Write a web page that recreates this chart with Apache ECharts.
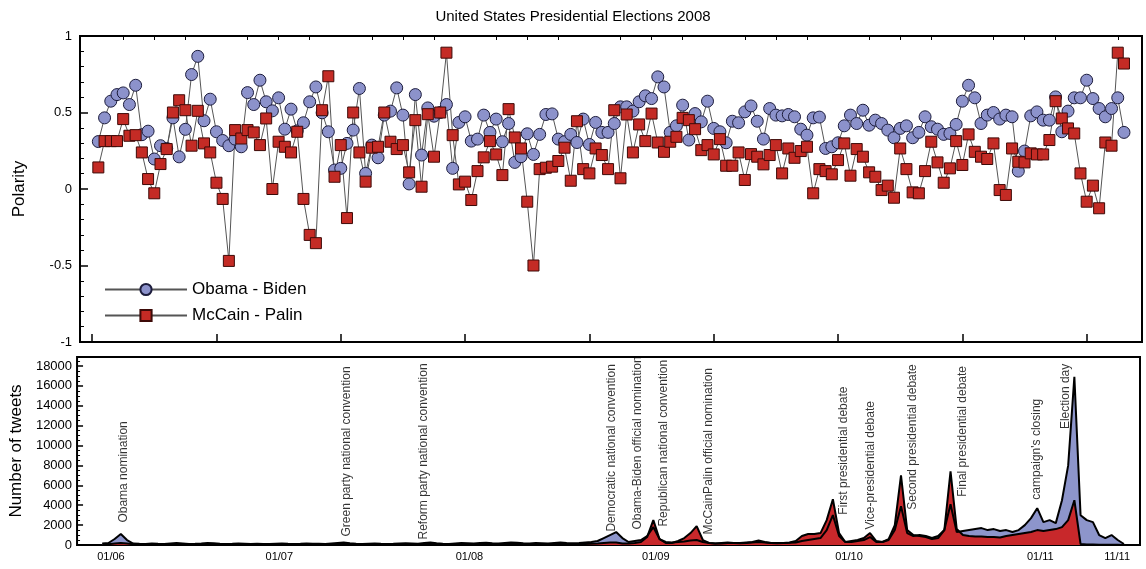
<!DOCTYPE html>
<html>
<head>
<meta charset="utf-8">
<title>United States Presidential Elections 2008</title>
<script src="https://cdn.jsdelivr.net/npm/echarts@6/dist/echarts.min.js"></script>
<style>
html, body { margin: 0; padding: 0; background: #fff; }
#main { width: 1146px; height: 569px; }
</style>
</head>
<body>
<div id="main"></div>
<script>
// daily polarity, day 1 .. 166
const obamaPolarity = [
  0.31, 0.465, 0.574, 0.617, 0.628, 0.552, 0.678, 0.355, 0.378, 0.196,
  0.283, 0.265, 0.465, 0.21, 0.39, 0.748, 0.867, 0.446, 0.587, 0.374,
  0.317, 0.283, 0.326, 0.276, 0.63, 0.552, 0.711, 0.57, 0.511, 0.596,
  0.391, 0.522, 0.38, 0.433, 0.57, 0.667, 0.498, 0.374, 0.124, 0.135,
  0.298, 0.385, 0.657, 0.102, 0.287, 0.204, 0.483, 0.509, 0.661, 0.483,
  0.033, 0.617, 0.222, 0.53, 0.476, 0.5, 0.552, 0.135, 0.435, 0.472,
  0.313, 0.326, 0.483, 0.37, 0.457, 0.309, 0.428, 0.174, 0.211, 0.361,
  0.226, 0.357, 0.487, 0.491, 0.326, 0.309, 0.357, 0.304, 0.457, 0.291,
  0.435, 0.37, 0.37, 0.428, 0.537, 0.537, 0.509, 0.57, 0.609, 0.591,
  0.733, 0.667, 0.37, 0.413, 0.548, 0.32, 0.493, 0.439, 0.574, 0.396,
  0.374, 0.302, 0.443, 0.433, 0.504, 0.543, 0.443, 0.326, 0.526, 0.483,
  0.478, 0.487, 0.472, 0.391, 0.352, 0.465, 0.47, 0.265, 0.276, 0.302,
  0.413, 0.483, 0.428, 0.515, 0.417, 0.45, 0.428, 0.385, 0.335, 0.396,
  0.413, 0.335, 0.37, 0.472, 0.407, 0.391, 0.357, 0.363, 0.422, 0.574,
  0.678, 0.596, 0.428, 0.483, 0.5, 0.457, 0.483, 0.472, 0.117, 0.248,
  0.478, 0.504, 0.45, 0.45, 0.602, 0.374, 0.509, 0.596, 0.596, 0.711,
  0.591, 0.526, 0.472, 0.526, 0.596, 0.37
]
const mccainPolarity = [
  0.141, 0.313, 0.313, 0.313, 0.457, 0.348, 0.352, 0.239, 0.065, -0.028,
  0.163, 0.261, 0.5, 0.58, 0.515, 0.283, 0.511, 0.298, 0.239, 0.041,
  -0.065, -0.47, 0.385, 0.33, 0.385, 0.37, 0.287, 0.461, 0.0, 0.309,
  0.276, 0.239, 0.374, -0.065, -0.3, -0.354, 0.515, 0.737, 0.08, 0.287,
  -0.19, 0.5, 0.239, 0.048, 0.27, 0.276, 0.5, 0.309, 0.261, 0.287,
  0.109, 0.45, 0.015, 0.489, 0.211, 0.5, 0.891, 0.352, 0.03, 0.048,
  -0.072, 0.117, 0.207, 0.313, 0.226, 0.091, 0.522, 0.337, 0.265, -0.083,
  -0.5, 0.13, 0.139, 0.146, 0.183, 0.27, 0.054, 0.443, 0.13, 0.102,
  0.265, 0.222, 0.13, 0.515, 0.07, 0.487, 0.239, 0.422, 0.313, 0.493,
  0.304, 0.243, 0.309, 0.341, 0.465, 0.45, 0.391, 0.254, 0.287, 0.226,
  0.326, 0.152, 0.152, 0.239, 0.059, 0.228, 0.211, 0.161, 0.222, 0.287,
  0.102, 0.265, 0.204, 0.248, 0.276, -0.028, 0.13, 0.117, 0.096, 0.189,
  0.298, 0.087, 0.261, 0.211, 0.109, 0.08, -0.007, 0.022, -0.057, 0.265,
  0.13, -0.022, -0.028, 0.117, 0.309, 0.174, 0.041, 0.135, 0.313, 0.157,
  0.357, 0.243, 0.211, 0.196, 0.298, -0.007, -0.039, 0.265, 0.178, 0.174,
  0.233, 0.226, 0.226, 0.32, 0.574, 0.461, 0.396, 0.363, 0.102, -0.083,
  0.022, -0.126, 0.304, 0.283, 0.891, 0.82
]
// daily tweet counts, same days
const obamaTweets = [
  150, 200, 600, 1100, 500, 150, 120, 100, 150, 120,
  100, 150, 200, 150, 100, 120, 150, 200, 180, 120,
  100, 120, 150, 130, 100, 120, 100, 110, 130, 150,
  120, 100, 120, 150, 130, 120, 100, 150, 200, 250,
  180, 120, 100, 130, 150, 120, 100, 120, 150, 180,
  150, 120, 200, 250, 180, 120, 100, 150, 200, 180,
  150, 200, 220, 180, 150, 200, 250, 220, 180, 150,
  200, 180, 150, 200, 250, 200, 180, 200, 250, 300,
  400, 700, 1000, 1300, 700, 300, 400, 500, 900, 1800,
  600, 300, 250, 300, 350, 450, 500, 300, 200, 150,
  200, 250, 200, 180, 200, 250, 300, 250, 200, 180,
  200, 220, 250, 400, 500, 600, 700, 1500, 3000, 900,
  300, 300, 400, 500, 800, 300, 300, 500, 1500, 3900,
  1200, 900, 1000, 900, 700, 900, 1500, 4100, 1300, 1400,
  1500, 1600, 1700, 1500, 1600, 1400, 1500, 1300, 1500, 2000,
  2700, 3700, 2300, 2500, 2200, 4500, 8000, 16900, 3000, 2500,
  2300, 1000, 700, 1000, 500, 100
]
const mccainTweets = [
  50, 80, 150, 200, 150, 80, 60, 50, 70, 60,
  50, 70, 90, 70, 50, 60, 70, 90, 80, 60,
  50, 60, 70, 60, 50, 60, 50, 60, 70, 80,
  60, 50, 60, 70, 60, 60, 50, 70, 90, 110,
  80, 60, 50, 60, 70, 60, 50, 60, 70, 90,
  70, 60, 90, 110, 80, 60, 50, 70, 90, 80,
  70, 90, 100, 80, 70, 90, 110, 100, 80, 70,
  90, 80, 70, 90, 110, 90, 80, 90, 110, 130,
  150, 200, 250, 250, 150, 150, 200, 300, 800, 2500,
  600, 200, 200, 400, 700, 1200, 1900, 500, 200, 150,
  150, 200, 200, 200, 250, 300, 450, 300, 200, 200,
  200, 250, 400, 900, 1100, 1100, 1200, 2500, 4600, 1200,
  300, 400, 500, 700, 1200, 400, 300, 600, 2000, 7000,
  1500, 1000, 900, 800, 600, 700, 1500, 7400, 1600, 1000,
  900, 850, 850, 800, 800, 750, 900, 1000, 1100, 1200,
  1300, 1500, 1400, 1500, 1600, 1800, 2500, 4500, 100, 50,
  50, 30, 30, 30, 20, 10
]
// date tick labels of the lower panel (day positions)
const dateTickPos = [2.4, 29.6, 60.3, 90.4, 121.6, 152.5, 164.9]
const dateTickLabels = ['01/06', '01/07', '01/08', '01/09', '01/10', '01/11', '11/11']
// events written over the lower panel
const eventNames = [
  'Obama nomination', 'Green party national convention', 'Reform party national convention',
  'Democratic national convention', 'Obama-Biden official nomination', 'Republican national convention',
  'McCainPalin official nomination', 'First presidential debate', 'Vice-presidential debate',
  'Second presidential debate', 'Final presidential debate', "campaign's closing", 'Election day'
]
const eventDays = [4.5, 40.6, 53, 83.3, 87.5, 91.7, 99, 120.8, 125.2, 132, 140, 152, 156.6]
const eventLevels = [2200, 800, 500, 1300, 1500, 1800, 1000, 3000, 1500, 3500, 4800, 4500, 11600]

const polarityTicks = [0, 20, 40, 60, 80, 100, 120, 140, 160]
const polarityMinorTicks = []
for (let t = 5; t < 168; t += 5) {
  if (t % 20 !== 0) polarityMinorTicks.push(t)
}

const font = 'Liberation Sans'
let myChart = echarts.init(document.getElementById('main'))

const toPoints = arr => arr.map((v, i) => [i + 1, v])

const option = {
  animation: false,
  textStyle: { fontFamily: font, color: '#000' },
  title: {
    text: 'United States Presidential Elections 2008',
    left: 'center',
    top: 4,
    textStyle: { fontSize: 15, fontWeight: 'normal', color: '#000', fontFamily: font }
  },
  legend: {
    data: ['Obama - Biden', 'McCain - Palin'],
    orient: 'vertical',
    left: 99,
    top: 276,
    itemWidth: 82,
    itemHeight: 14,
    itemGap: 9,
    textStyle: { fontSize: 17, color: '#000', fontFamily: font }
  },
  grid: [
    { left: 80, top: 36, width: 1062, height: 306, show: true, borderColor: '#000', borderWidth: 2 },
    { left: 73, top: 357, width: 1067, height: 188, show: true, borderColor: '#000', borderWidth: 2 }
  ],
  xAxis: [
    {
      gridIndex: 0, type: 'value', min: -1.95, max: 168.9,
      axisLine: { show: false, onZero: false }, splitLine: { show: false },
      axisLabel: { show: false },
      axisTick: { show: true, inside: true, length: 8, customValues: polarityTicks, lineStyle: { color: '#000', width: 1.5 } }
    },
    {
      gridIndex: 0, type: 'value', min: -1.95, max: 168.9,
      axisLine: { show: false, onZero: false }, splitLine: { show: false },
      axisLabel: { show: false },
      axisTick: { show: true, inside: true, length: 4, customValues: polarityMinorTicks, lineStyle: { color: '#000', width: 1 } }
    },
    {
      gridIndex: 1, type: 'value', min: -3.07, max: 168.6,
      axisLine: { show: false, onZero: false }, splitLine: { show: false },
      axisTick: { show: false },
      axisLabel: {
        customValues: dateTickPos,
        fontSize: 11, margin: 6, color: '#000',
        formatter: v => {
          let best = 0
          dateTickPos.forEach((p, i) => { if (Math.abs(p - v) < Math.abs(dateTickPos[best] - v)) best = i })
          return dateTickLabels[best]
        }
      }
    }
  ],
  yAxis: [
    {
      gridIndex: 0, type: 'value', min: -1, max: 1, interval: 0.5,
      name: 'Polarity', nameLocation: 'middle', nameGap: 52,
      nameTextStyle: { fontSize: 17, color: '#000' },
      axisLine: { show: false, onZero: false }, splitLine: { show: false },
      axisTick: { show: true, inside: true, length: 8, lineStyle: { color: '#000', width: 1.5 } },
      minorTick: { show: true, splitNumber: 5, length: 4, lineStyle: { color: '#000', width: 1 } },
      axisLabel: { fontSize: 13, margin: 8, color: '#000' }
    },
    {
      gridIndex: 1, type: 'value', min: 0, max: 18900, interval: 2000,
      name: 'Number of tweets', nameLocation: 'middle', nameGap: 46,
      nameTextStyle: { fontSize: 17, color: '#000' },
      axisLine: { show: false, onZero: false }, splitLine: { show: false },
      axisTick: { show: true, inside: true, length: 6, lineStyle: { color: '#000', width: 1.5 } },
      minorTick: { show: true, splitNumber: 4, length: 3, lineStyle: { color: '#000', width: 1 } },
      axisLabel: { fontSize: 13, margin: 5, color: '#000', formatter: v => (v % 2000 === 0 ? String(v) : '') }
    }
  ],
  series: [
    {
      name: 'Obama - Biden', type: 'line', xAxisIndex: 0, yAxisIndex: 0,
      data: toPoints(obamaPolarity),
      symbol: 'circle', symbolSize: 12, showSymbol: true, showAllSymbol: true,
      itemStyle: { color: '#8c92cb', borderColor: '#1c1c3c', borderWidth: 1 },
      lineStyle: { color: '#555', width: 1 }
    },
    {
      name: 'McCain - Palin', type: 'line', xAxisIndex: 0, yAxisIndex: 0,
      data: toPoints(mccainPolarity),
      symbol: 'rect', symbolSize: 11, showSymbol: true, showAllSymbol: true,
      itemStyle: { color: '#c42b25', borderColor: '#3d0a08', borderWidth: 1 },
      lineStyle: { color: '#555', width: 1 }
    },
    // tweet areas, lines drawn on top afterwards
    {
      name: 'Obama tweets', type: 'line', xAxisIndex: 2, yAxisIndex: 1,
      data: toPoints(obamaTweets), symbol: 'none',
      lineStyle: { width: 0 }, areaStyle: { color: '#8d95cb', opacity: 1 }
    },
    {
      name: 'McCain tweets', type: 'line', xAxisIndex: 2, yAxisIndex: 1,
      data: toPoints(mccainTweets), symbol: 'none',
      lineStyle: { width: 0 }, areaStyle: { color: '#c8282b', opacity: 1 }
    },
    {
      name: 'Obama tweets line', type: 'line', xAxisIndex: 2, yAxisIndex: 1,
      data: toPoints(obamaTweets), symbol: 'none',
      lineStyle: { color: '#000', width: 2 }
    },
    {
      name: 'McCain tweets line', type: 'line', xAxisIndex: 2, yAxisIndex: 1,
      data: toPoints(mccainTweets), symbol: 'none',
      lineStyle: { color: '#000', width: 2 }
    },
    {
      name: 'events', type: 'scatter', xAxisIndex: 2, yAxisIndex: 1,
      symbolSize: 1, silent: true,
      itemStyle: { color: 'rgba(0,0,0,0)' },
      data: eventNames.map((n, i) => ({ name: n, value: [eventDays[i], eventLevels[i]] })),
      label: {
        show: true, formatter: '{b}', position: [0, 0], rotate: 90,
        align: 'left', verticalAlign: 'middle',
        fontSize: 12, color: '#000', fontFamily: font
      }
    }
  ]
}
myChart.setOption(option)
</script>
</body>
</html>
